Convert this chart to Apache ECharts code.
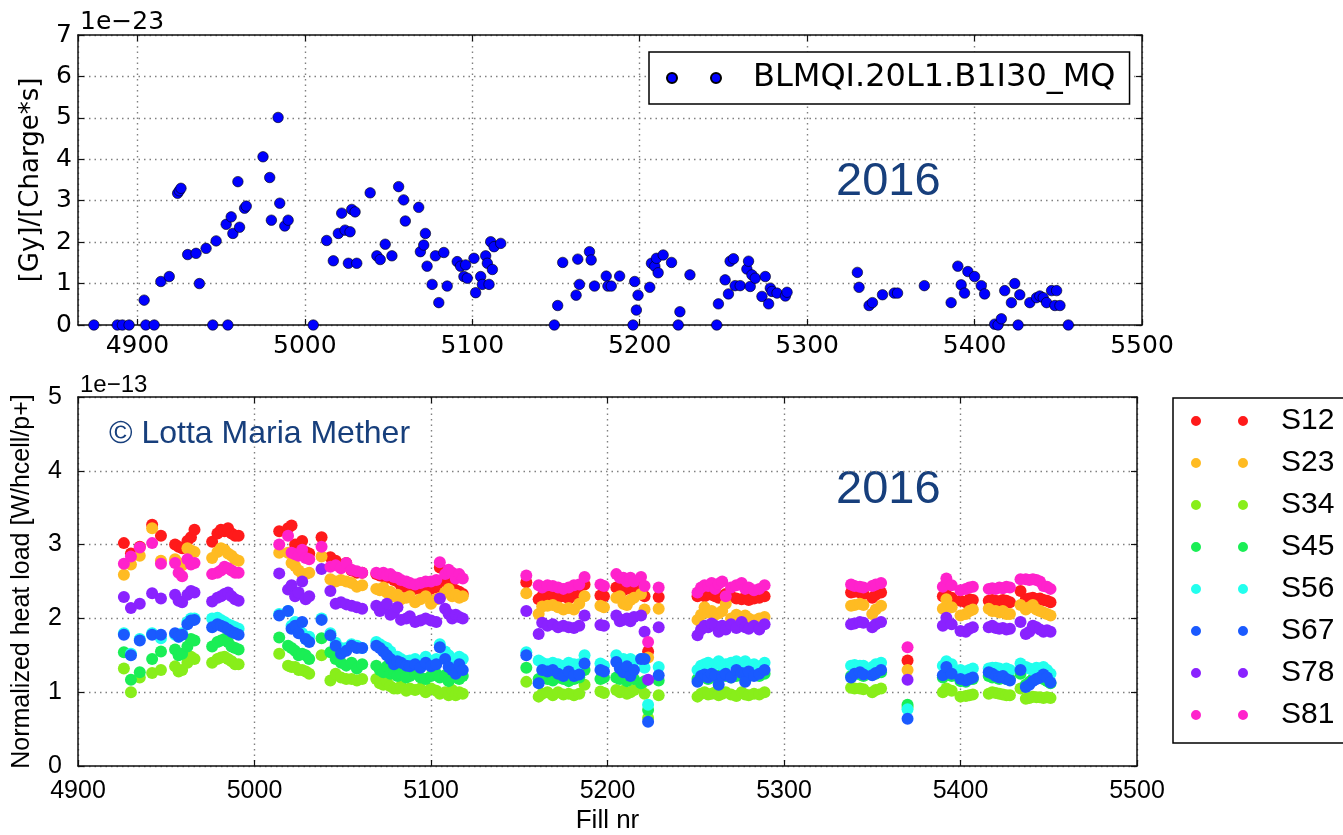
<!DOCTYPE html>
<html>
<head>
<meta charset="utf-8">
<script src="https://cdn.jsdelivr.net/npm/echarts@6/dist/echarts.min.js"></script>
<style>html,body{margin:0;padding:0;background:#fff;}#c{width:1343px;height:835px;}</style>
</head>
<body>
<div id="c"></div>
<script>
// ---------- top panel: BLM signal ----------
const topName = 'BLMQI.20L1.B1I30_MQ';
const topFills = [4874,4888,4891,4895,4904,4905,4910,4914,4919,4924,4925,4926,4930,4935,4937,4941,4945,4947,4953,4954,4956,4957,4960,4961,4964,4965,4975,4979,4980,4984,4985,4988,4990,
5005,5013,5017,5020,5022,5024,5026,5027,5028,5030,5031,5039,5043,5045,5048,5052,5056,5059,5060,5068,5069,5071,5072,5073,5076,5078,5080,5083,5085,5091,5093,5095,5096,5097,
5101,5102,5105,5106,5108,5109,5110,5111,5112,5113,5117,5149,5151,5154,5162,5163,5164,5170,5171,5173,5180,5181,5183,5188,5196,5197,5198,5199,5206,5207,5209,5210,5211,5214,5219,
5223,5224,5230,5246,5247,5251,5253,5254,5256,5257,5260,5264,5265,5266,5267,5269,5273,5275,5277,5278,5279,5282,5287,5288,5330,5331,5337,5339,5345,5352,5354,5370,
5386,5390,5392,5394,5396,5400,5404,5406,5412,5414,5416,5418,5422,5424,5426,5427,5433,5437,5439,5441,5443,5446,5448,5449,5451,5456];
const topValues = [0,0,0,0,0.6,0,0,1.05,1.17,3.18,3.24,3.3,1.7,1.73,1.0,1.85,0,2.03,2.43,0,2.61,2.21,3.46,2.36,2.82,2.87,4.06,3.56,2.53,5.01,2.94,2.39,2.53,
0,2.04,1.55,2.21,2.7,2.29,1.49,2.25,2.79,2.73,1.49,3.19,1.67,1.58,1.95,1.67,3.34,3.02,2.51,2.84,1.77,1.93,2.21,1.42,0.98,1.67,0.54,1.75,0.94,1.53,1.42,1.17,1.45,1.13,
1.61,0.78,1.17,0.98,1.67,1.49,0.98,2.01,1.34,1.89,1.97,0,0.47,1.51,0.72,1.59,0.98,1.77,1.57,0.94,1.18,0.94,0.94,1.18,0,1.05,0.36,0.72,0.91,1.49,1.42,1.61,1.26,1.69,1.51,
0,0.32,1.21,0,0.51,1.09,0.75,1.54,1.6,0.95,0.95,1.35,1.54,0.93,1.21,1.13,0.69,1.17,0.51,0.89,0.81,0.77,0.7,0.79,1.27,0.91,0.47,0.54,0.73,0.77,0.77,0.95,
0.54,1.42,0.97,0.77,1.29,1.17,0.95,0.75,0.02,0,0.15,0.83,0.54,1.0,0,0.73,0.54,0.66,0.7,0.66,0.54,0.83,0.47,0.83,0.47,0];

// ---------- bottom panel: normalized heat load per sector ----------
const sectorNames = ['S12','S23','S34','S45','S56','S67','S78','S81'];
const sectorColors = ['#ff1a1a','#ffbb22','#88ee1a','#1aee55','#22ffee','#1a5aff','#8a22ff','#ff22cc'];
const fills = [
4926,4930,4935,4942,4947,4955,4957,4959,4962,4964,4966,4976,4979,4981,4983,4985,4987,4989,4991,
5014,5019,5021,5023,5025,5027,5029,5031,5038,5043,5046,5049,5052,5055,5058,5061,5069,5071,5073,5075,5077,5079,5081,5083,5086,5088,5091,5094,5097,5100,5103,5105,5108,5110,5112,5114,5116,5118,
5154,5161,5163,5166,5169,5172,5175,5178,5181,5184,5187,5196,5198,5205,5207,5209,5211,5213,5215,5219,5221,5223,5229,
5251,5253,5255,5257,5259,5261,5263,5265,5267,5270,5273,5276,5278,5280,5283,5286,5289,
5338,5340,5343,5345,5350,5352,5355,
5370,
5390,5392,5395,5400,5403,5405,5407,
5416,5418,5420,5422,5424,5426,5428,5434,5437,5439,5441,5443,5445,5447,5449,5451];
const s12 = [
3.02,2.88,2.97,3.27,3.12,3.0,2.97,2.95,3.05,3.1,3.2,3.04,3.15,3.2,3.18,3.22,3.15,3.12,3.12,
3.18,3.22,3.26,3.0,2.95,3.05,2.9,2.88,3.1,2.83,2.78,2.72,2.75,2.65,2.62,2.62,2.6,2.58,2.57,2.55,2.58,2.52,2.5,2.45,2.42,2.42,2.4,2.4,2.38,2.4,2.42,2.69,2.5,2.45,2.42,2.38,2.36,2.33,
2.49,2.26,2.3,2.32,2.3,2.28,2.3,2.27,2.3,2.32,2.46,2.31,2.3,2.42,2.4,2.38,2.42,2.4,2.4,2.46,2.3,1.55,2.29,
2.3,2.32,2.3,2.35,2.32,2.3,2.28,2.3,2.33,2.3,2.27,2.26,2.28,2.25,2.27,2.28,2.3,
2.35,2.36,2.35,2.33,2.28,2.32,2.35,
1.43,
2.3,2.32,2.28,2.24,2.22,2.26,2.25,
2.24,2.25,2.24,2.23,2.25,2.24,2.22,2.37,2.26,2.27,2.28,2.26,2.27,2.25,2.24,2.22];
const s23 = [
2.59,2.73,2.85,3.22,2.78,2.8,2.75,2.72,2.95,2.92,2.9,2.82,2.9,2.95,2.93,2.88,2.85,2.8,2.78,
2.89,2.89,2.75,2.71,2.65,2.6,2.6,2.62,2.84,2.53,2.5,2.52,2.5,2.48,2.43,2.45,2.4,2.38,2.42,2.35,2.36,2.3,2.32,2.26,2.28,2.3,2.22,2.26,2.3,2.2,2.26,2.28,2.35,2.4,2.3,2.32,2.28,2.3,
2.34,2.06,2.16,2.17,2.18,2.15,2.12,2.14,2.12,2.2,2.3,2.17,2.15,2.28,2.3,2.2,2.18,2.25,2.28,2.33,2.12,1.47,2.13,
1.98,2.05,2.15,2.08,2.1,2.05,2.07,2.1,2.2,2.0,2.05,2.02,2.04,2.0,1.97,2.0,2.02,
2.17,2.18,2.2,2.18,2.06,2.12,2.17,
1.3,
2.13,2.26,2.15,2.04,2.06,2.1,2.12,
2.13,2.1,2.1,2.08,2.1,2.06,2.06,2.18,2.12,2.15,2.18,2.12,2.1,2.08,2.06,2.04];
const s34 = [
1.32,1.0,1.2,1.26,1.3,1.35,1.28,1.3,1.4,1.48,1.45,1.4,1.45,1.47,1.48,1.45,1.42,1.38,1.38,
1.52,1.36,1.34,1.34,1.3,1.3,1.28,1.25,1.5,1.16,1.25,1.2,1.18,1.18,1.16,1.18,1.18,1.12,1.1,1.15,1.08,1.05,1.05,1.08,1.02,1.05,1.03,1.05,1.0,1.05,1.02,0.98,1.0,0.96,1.03,0.96,1.0,0.98,
1.14,0.94,0.98,1.0,0.96,1.0,0.97,0.98,0.96,0.98,1.1,1.01,0.99,1.03,1.0,1.02,0.98,1.0,1.03,1.1,0.98,0.65,0.96,
0.94,0.98,1.0,0.97,0.98,1.0,0.96,0.98,1.0,0.97,0.95,1.0,0.97,0.96,0.98,0.97,1.0,
1.06,1.05,1.05,1.04,1.0,1.03,1.05,
0.8,
1.0,1.05,1.02,0.94,0.95,0.96,0.97,
0.98,1.0,0.99,0.98,0.97,0.96,0.96,1.05,0.91,0.92,0.94,0.93,0.93,0.92,0.93,0.92];
const s45 = [
1.54,1.17,1.27,1.45,1.55,1.58,1.5,1.52,1.62,1.72,1.7,1.62,1.68,1.7,1.72,1.68,1.62,1.6,1.58,
1.74,1.63,1.6,1.56,1.5,1.52,1.5,1.45,1.73,1.54,1.45,1.4,1.36,1.4,1.32,1.38,1.36,1.3,1.27,1.35,1.25,1.28,1.22,1.25,1.2,1.22,1.25,1.2,1.18,1.22,1.25,1.2,1.23,1.15,1.2,1.22,1.18,1.22,
1.33,1.18,1.2,1.18,1.16,1.2,1.18,1.15,1.18,1.2,1.3,1.18,1.2,1.2,1.18,1.22,1.15,1.2,1.18,1.12,1.15,0.76,1.16,
1.18,1.2,1.22,1.18,1.2,1.22,1.2,1.25,1.22,1.2,1.22,1.25,1.2,1.22,1.25,1.22,1.25,
1.22,1.25,1.24,1.22,1.24,1.25,1.27,
0.83,
1.2,1.25,1.22,1.15,1.14,1.18,1.18,
1.22,1.2,1.2,1.18,1.2,1.18,1.18,1.25,1.1,1.14,1.18,1.2,1.2,1.18,1.15,1.12];
const s56 = [
1.8,1.52,1.72,1.8,1.73,1.78,1.75,1.8,1.95,2.0,2.0,2.0,2.01,1.98,1.95,1.92,1.9,1.88,1.86,
2.06,2.1,1.9,1.95,1.85,1.8,1.72,1.75,2.0,1.8,1.67,1.6,1.6,1.65,1.63,1.6,1.68,1.65,1.62,1.6,1.55,1.45,1.48,1.45,1.42,1.43,1.45,1.4,1.48,1.42,1.45,1.65,1.55,1.5,1.45,1.42,1.48,1.45,
1.54,1.43,1.4,1.38,1.4,1.38,1.36,1.4,1.38,1.38,1.5,1.39,1.36,1.5,1.42,1.45,1.4,1.45,1.42,1.45,1.33,0.83,1.34,
1.3,1.36,1.38,1.4,1.35,1.38,1.42,1.36,1.38,1.4,1.42,1.38,1.42,1.36,1.38,1.35,1.4,
1.36,1.37,1.36,1.36,1.34,1.38,1.4,
0.77,
1.36,1.42,1.38,1.3,1.28,1.3,1.32,
1.32,1.33,1.33,1.32,1.3,1.32,1.3,1.39,1.34,1.32,1.3,1.33,1.32,1.34,1.3,1.25];
const s67 = [
1.78,1.5,1.7,1.78,1.78,1.8,1.75,1.78,1.92,1.97,1.98,1.88,1.92,1.9,1.88,1.85,1.82,1.8,1.78,
2.04,2.1,1.86,1.9,1.8,1.95,1.72,1.68,1.98,1.77,1.63,1.52,1.56,1.63,1.6,1.6,1.63,1.6,1.55,1.5,1.45,1.38,1.42,1.4,1.36,1.35,1.38,1.33,1.4,1.35,1.38,1.61,1.45,1.34,1.3,1.25,1.38,1.3,
1.5,1.12,1.3,1.28,1.3,1.25,1.22,1.28,1.22,1.24,1.39,1.3,1.28,1.41,1.32,1.27,1.35,1.22,1.3,1.45,1.45,0.6,1.23,
1.14,1.22,1.24,1.2,1.25,1.22,1.1,1.22,1.25,1.2,1.3,1.26,1.14,1.28,1.22,1.25,1.3,
1.2,1.25,1.27,1.24,1.23,1.26,1.3,
0.64,
1.23,1.34,1.25,1.18,1.16,1.18,1.2,
1.27,1.25,1.22,1.2,1.22,1.18,1.16,1.3,1.07,1.1,1.15,1.18,1.2,1.24,1.2,1.13];
const s78 = [
2.29,2.14,2.2,2.34,2.27,2.32,2.24,2.22,2.32,2.37,2.35,2.23,2.28,2.3,2.33,2.35,2.3,2.26,2.24,
2.61,2.39,2.45,2.3,2.35,2.5,2.26,2.3,2.67,2.37,2.2,2.22,2.19,2.17,2.15,2.13,2.17,2.1,2.15,2.2,2.05,2.08,2.15,1.98,2.0,2.03,1.95,1.97,2.0,1.97,1.95,2.27,2.13,2.06,2.0,2.05,2.02,2.0,
2.1,1.79,1.94,1.9,1.92,1.88,1.9,1.88,1.87,1.9,2.04,1.91,1.9,2.04,1.96,1.98,2.0,1.96,2.02,2.04,1.82,1.17,1.88,
1.77,1.85,1.9,1.88,1.93,1.9,1.82,1.9,1.85,1.92,1.87,1.95,1.88,1.86,1.9,1.85,1.92,
1.92,1.93,1.95,1.94,1.88,1.92,1.95,
1.17,
1.9,2.01,1.92,1.83,1.82,1.86,1.88,
1.88,1.9,1.87,1.86,1.87,1.85,1.86,1.95,1.79,1.82,1.9,1.88,1.85,1.82,1.84,1.82];
const s81 = [
2.74,2.84,2.96,3.02,2.74,2.75,2.62,2.57,2.8,2.73,2.75,2.6,2.62,2.65,2.7,2.68,2.65,2.62,2.62,
3.0,3.12,2.89,2.87,2.85,2.93,2.82,2.8,2.97,2.7,2.72,2.68,2.75,2.66,2.64,2.62,2.62,2.6,2.62,2.58,2.6,2.56,2.55,2.52,2.5,2.48,2.46,2.48,2.5,2.5,2.52,2.76,2.6,2.66,2.62,2.54,2.6,2.54,
2.58,2.45,2.42,2.45,2.44,2.42,2.4,2.42,2.45,2.46,2.56,2.46,2.44,2.6,2.55,2.55,2.5,2.55,2.5,2.56,2.44,1.68,2.42,
2.35,2.42,2.45,2.44,2.48,2.4,2.47,2.5,2.3,2.42,2.45,2.48,2.4,2.42,2.38,2.4,2.45,
2.46,2.44,2.43,2.42,2.44,2.46,2.48,
1.61,
2.43,2.54,2.45,2.38,2.4,2.42,2.43,
2.4,2.41,2.4,2.42,2.41,2.43,2.42,2.53,2.53,2.52,2.53,2.52,2.5,2.44,2.43,2.4];
const sectorValues = [s12,s23,s34,s45,s56,s67,s78,s81];

// ---------- build chart ----------
const chart = echarts.init(document.getElementById('c'), null, {renderer:'canvas'});
const NAVY = '#173f7c';
const dotted = {show:true, lineStyle:{color:'#808080', width:1.4, type:[1.5,4]}};
const frameLine = {show:true, onZero:false, lineStyle:{color:'#111', width:1.5}};
const tickIn = {show:true, inside:true, length:6, lineStyle:{color:'#111', width:1.2}};
const icon2a = 'path://M0,5A5,5,0,1,0,10,5A5,5,0,1,0,0,5ZM44,5A5,5,0,1,0,54,5A5,5,0,1,0,44,5Z';
const icon2b = 'path://M0,5A5,5,0,1,0,10,5A5,5,0,1,0,0,5ZM47,5A5,5,0,1,0,57,5A5,5,0,1,0,47,5Z';
const F = 'DejaVu Sans';
const A = 'Liberation Sans';
const plain = v => String(v);

const series = [{
  name: topName, type:'scatter', xAxisIndex:0, yAxisIndex:0,
  symbol:'circle', symbolSize:10.5,
  itemStyle:{color:'#0000ff', borderColor:'#000', borderWidth:0.6, opacity:1},
  data: topFills.map((f,i)=>[f, topValues[i]])
}];
sectorNames.forEach((n,k)=>{
  series.push({
    name:n, type:'scatter', xAxisIndex:2, yAxisIndex:2,
    symbol:'circle', symbolSize:12,
    itemStyle:{color:sectorColors[k], opacity:1},
    data: fills.map((f,i)=>[f, sectorValues[k][i]])
  });
});

chart.setOption({
  animation:false,
  backgroundColor:'#fff',
  grid:[
    {left:78, top:35, width:1064, height:290, show:false},
    {left:78, top:397, width:1059, height:371, show:false}
  ],
  xAxis:[
    {gridIndex:0, type:'value', min:4864.5, max:5500, splitNumber:6, position:'bottom',
     axisLine:frameLine, axisTick:tickIn, splitLine:dotted,
     axisLabel:{showMinLabel:false, fontFamily:F, fontSize:25, color:'#000', margin:9,
       formatter:v=> (Math.abs(v%100)<1e-6 ? String(v) : '')}},
    {gridIndex:0, type:'value', min:4864.5, max:5500, splitNumber:6, position:'top',
     axisLine:frameLine, axisTick:tickIn, splitLine:{show:false}, axisLabel:{show:false}},
    {gridIndex:1, type:'value', min:4900, max:5500, interval:100, position:'bottom',
     name:'Fill nr', nameLocation:'middle', nameGap:42,
     nameTextStyle:{fontFamily:A, fontSize:26, color:'#000'},
     axisLine:frameLine, axisTick:tickIn, splitLine:dotted,
     axisLabel:{fontFamily:A, fontSize:25, color:'#000', margin:13, formatter:plain}},
    {gridIndex:1, type:'value', min:4900, max:5500, interval:100, position:'top',
     axisLine:frameLine, axisTick:tickIn, splitLine:{show:false}, axisLabel:{show:false}}
  ],
  yAxis:[
    {gridIndex:0, type:'value', min:0, max:7, interval:1, position:'left',
     name:'[Gy]/[Charge*s]', nameLocation:'middle', nameRotate:90, nameGap:34,
     nameTextStyle:{fontFamily:F, fontSize:26, color:'#000'},
     axisLine:frameLine, axisTick:tickIn, splitLine:dotted,
     axisLabel:{fontFamily:F, fontSize:25, color:'#000', margin:6, formatter:plain}},
    {gridIndex:0, type:'value', min:0, max:7, interval:1, position:'right',
     axisLine:frameLine, axisTick:tickIn, splitLine:{show:false}, axisLabel:{show:false}},
    {gridIndex:1, type:'value', min:0, max:5, interval:1, position:'left',
     name:'Normalized heat load [W/hcell/p+]', nameLocation:'middle', nameRotate:90, nameGap:43,
     nameTextStyle:{fontFamily:A, fontSize:25, color:'#000'},
     axisLine:frameLine, axisTick:tickIn, splitLine:dotted,
     axisLabel:{fontFamily:A, fontSize:25, color:'#000', margin:16, formatter:plain}},
    {gridIndex:1, type:'value', min:0, max:5, interval:1, position:'right',
     axisLine:frameLine, axisTick:tickIn, splitLine:{show:false}, axisLabel:{show:false}}
  ],
  legend:[
    {data:[topName], left:649, top:52, orient:'horizontal', selectedMode:false,
     padding:[10,14,10,17], borderColor:'#000', borderWidth:1.5, backgroundColor:'#fff',
     itemWidth:54, itemHeight:10, icon:icon2a,
     textStyle:{fontFamily:F, fontSize:32, color:'#000', padding:[0,0,0,27]}},
    {data:sectorNames, left:1173, top:398, orient:'vertical', selectedMode:false,
     padding:[6,20,11,18], itemGap:8, borderColor:'#000', borderWidth:1.5, backgroundColor:'#fff',
     itemWidth:57, itemHeight:10, icon:icon2b,
     textStyle:{fontFamily:A, fontSize:30, lineHeight:34, color:'#000', padding:[0,0,0,28]}}
  ],
  graphic:[
    {type:'text', left:80, top:10, style:{text:'1e\u221223', font:'25px "DejaVu Sans"', fill:'#000'}},
    {type:'text', left:80, top:373, style:{text:'1e\u221213', font:'24px "Liberation Sans"', fill:'#000'}},
    {type:'text', left:836, top:159, style:{text:'2016', font:'47px "Liberation Sans"', fill:NAVY}},
    {type:'text', left:836, top:467, style:{text:'2016', font:'47px "Liberation Sans"', fill:NAVY}},
    {type:'text', left:109, top:418, style:{text:'\u00a9 Lotta Maria Mether', font:'32px "Liberation Sans"', fill:NAVY}}
  ],
  series: series
});
</script>
</body>
</html>
